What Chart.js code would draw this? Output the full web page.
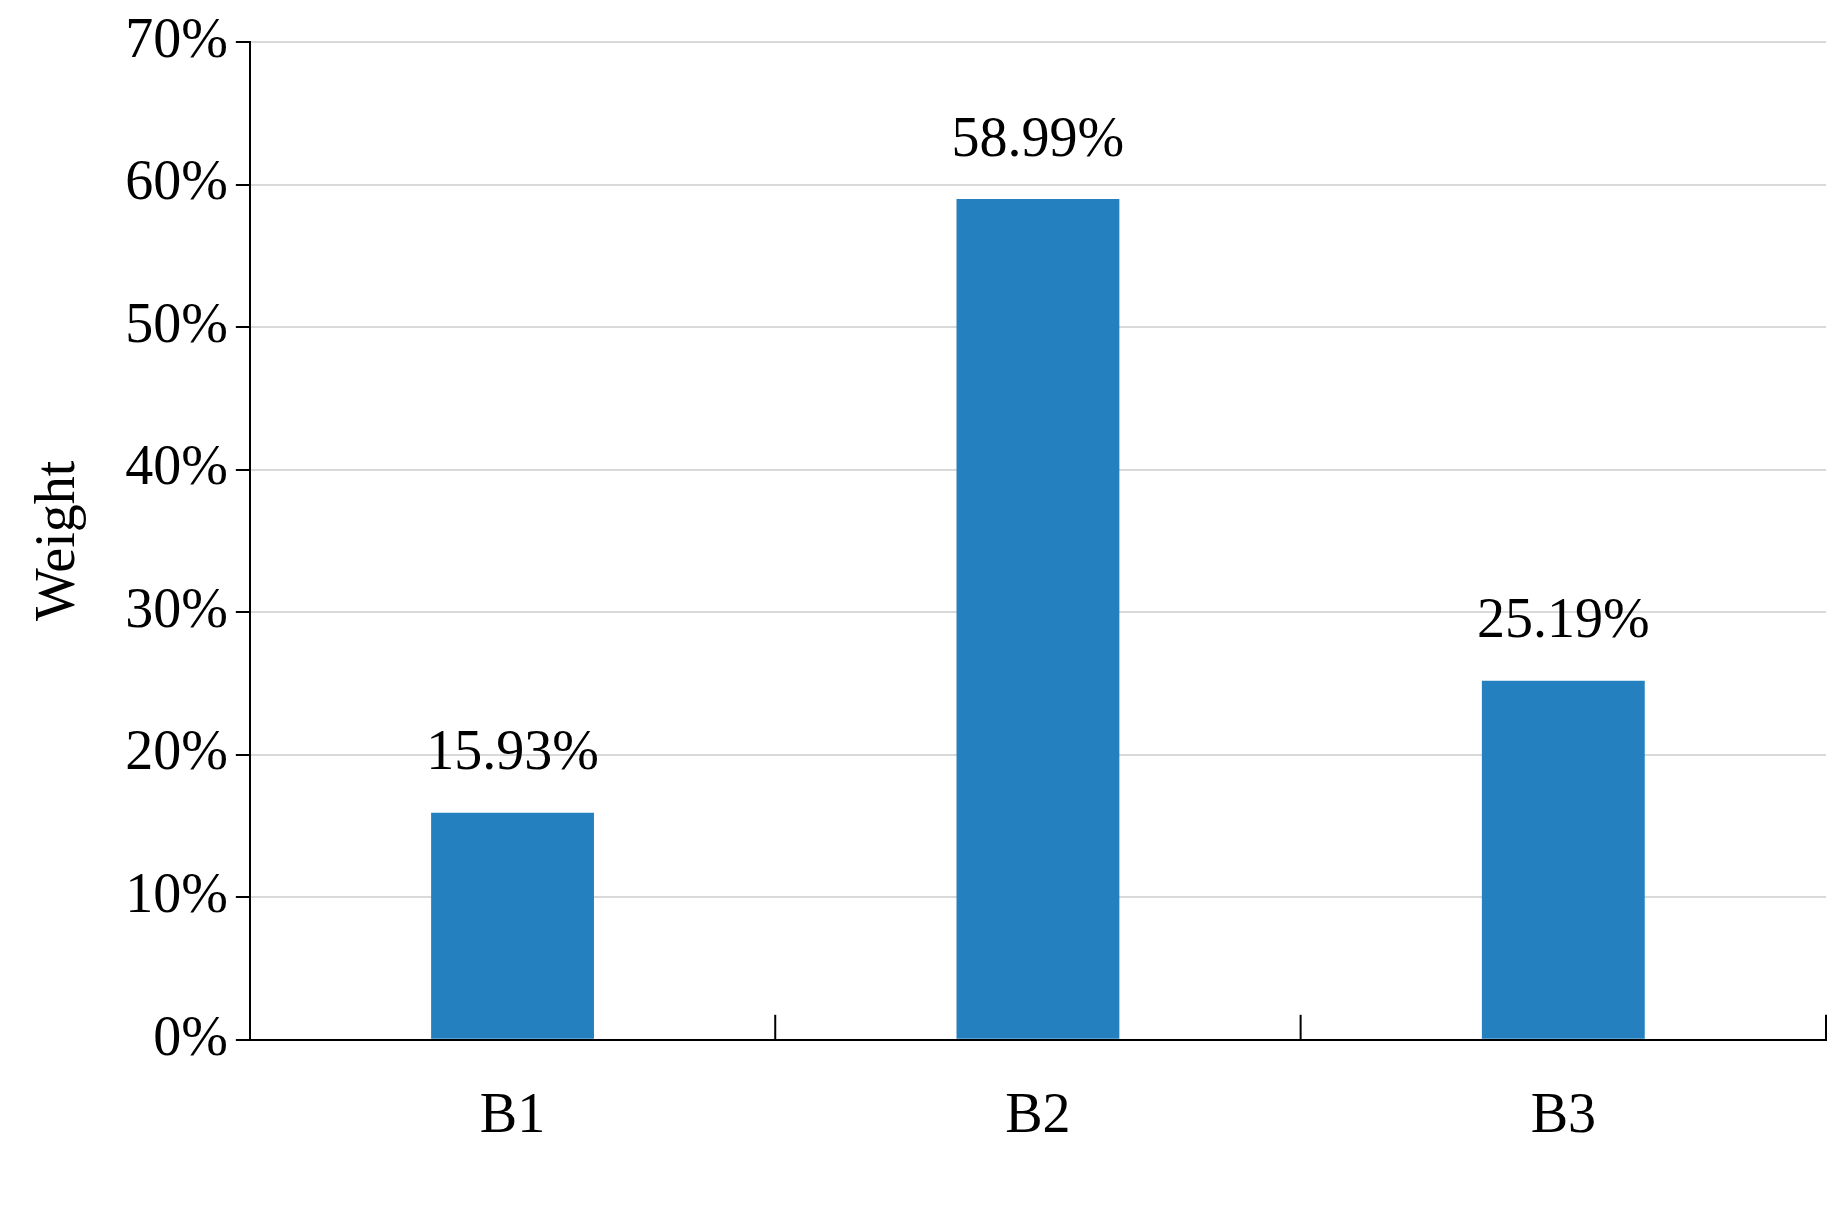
<!DOCTYPE html>
<html><head><meta charset="utf-8">
<script src="https://cdn.jsdelivr.net/npm/chart.js@4"></script>
<style>html,body{margin:0;padding:0;background:#fff}#w{width:1846px;height:1225px}</style>
</head><body><div id="w"><canvas id="c"></canvas></div>
<script>
const categories = ["B1","B2","B3"];
const weights = [15.93, 58.99, 25.19];
const labels = ["15.93%","58.99%","25.19%"];

const FONT = "'Liberation Serif', 'Times New Roman', serif";
const dataLabels = {
  id:'dataLabels',
  afterDatasetsDraw(chart){
    const ctx=chart.ctx, meta=chart.getDatasetMeta(0);
    ctx.save();
    ctx.font="56px "+FONT; ctx.fillStyle="#000"; ctx.textAlign="center"; ctx.textBaseline="bottom";
    meta.data.forEach((b,i)=>ctx.fillText(labels[i], b.x, b.y-30));
    const x=chart.scales.x, y=chart.scales.y;
    ctx.strokeStyle="#000"; ctx.lineWidth=2;
    for(let i=1;i<=categories.length;i++){
      const px = x.left + (x.right-x.left)*i/categories.length;
      ctx.beginPath(); ctx.moveTo(px,y.bottom); ctx.lineTo(px,y.bottom-25); ctx.stroke();
    }
    ctx.restore();
  }
};
new Chart(document.getElementById('c'),{
  type:'bar',
  data:{labels:categories,datasets:[{data:weights,backgroundColor:'#2480bf',categoryPercentage:1,barPercentage:0.31}]},
  options:{
    responsive:true,maintainAspectRatio:false,animation:false,
    layout:{padding:{top:42,right:20,bottom:30,left:22}},
    plugins:{legend:{display:false},tooltip:{enabled:false}},
    scales:{
      x:{grid:{display:false,drawTicks:false},border:{color:'#000',width:2},
         ticks:{color:'#000',font:{family:FONT,size:56},padding:44}},
      y:{min:0,max:70,
         ticks:{stepSize:10,callback:v=>v+'%',color:'#000',font:{family:FONT,size:56},padding:8},
         grid:{color:'#d9d9d9',lineWidth:2,tickLength:14,tickColor:'#000'},
         border:{color:'#000',width:2},
         title:{display:true,text:'Weight',color:'#000',font:{family:FONT,size:56},padding:{bottom:24}}}
    }
  },
  plugins:[dataLabels]
});
</script></body></html>
